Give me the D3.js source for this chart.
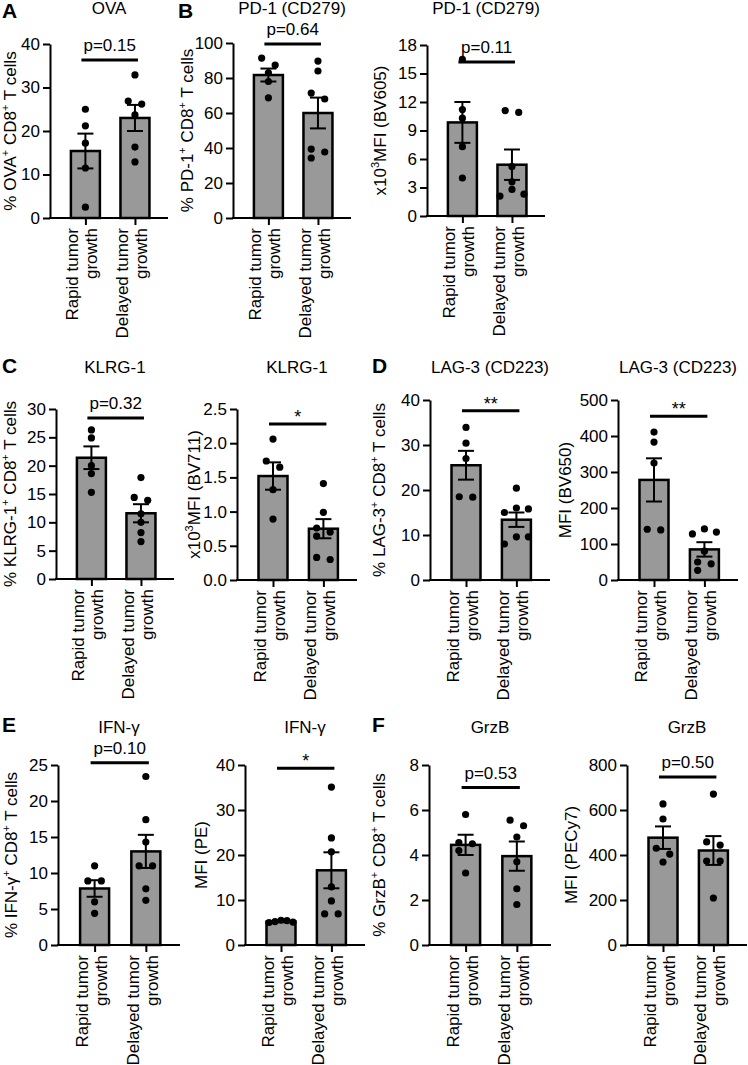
<!DOCTYPE html>
<html><head><meta charset="utf-8">
<script src="https://cdn.jsdelivr.net/npm/d3@7"></script>
<style>
body{margin:0;background:#fff}
svg text{font-family:Arial,"Liberation Sans",Helvetica,sans-serif;fill:#000}
</style>
</head><body>
<svg id="c" width="748" height="1065"></svg>
<script>
// ---------------- DATA ----------------
const categories = ["Rapid tumor growth", "Delayed tumor growth"];
const categoryLines = [["Rapid tumor", "growth"], ["Delayed tumor", "growth"]];
const panelTitles = ["OVA","PD-1 (CD279)","PD-1 (CD279)","KLRG-1","KLRG-1","LAG-3 (CD223)","LAG-3 (CD223)","IFN-γ","IFN-γ","GrzB","GrzB"];
const yLabels = ["% OVA^+ CD8^+ T cells","% PD-1^+ CD8^+ T cells","x10^3MFI (BV605)","% KLRG-1^+ CD8^+ T cells","x10^3MFI (BV711)","% LAG-3^+ CD8^+ T cells","MFI (BV650)","% IFN-γ^+ CD8^+ T cells","MFI (PE)","% GrzB^+ CD8^+ T cells","MFI (PECy7)"];
const yMax = [40, 100, 18, 30, 2.5, 40, 500, 25, 40, 8, 800];
const yStep = [10, 20, 3, 5, 0.5, 10, 100, 5, 10, 2, 200];
const tickDecimals = [0, 0, 0, 0, 1, 0, 0, 0, 0, 0, 0];
const means = [[15.4,23.0],[81.7,60.0],[9.85,5.4],[21.4,11.6],[1.52,0.75],[25.5,13.4],[278,85],[7.85,13.0],[5.2,16.6],[4.45,3.95],[477,420]];
const sems  = [[4.0,3.0],[3.7,8.8],[2.15,1.6],[2.0,1.6],[0.2,0.14],[3.2,1.6],[60,20],[1.15,2.3],[0.12,4.0],[0.45,0.65],[50,64]];
const rapidPoints = [
  [25, 21.2, 17.2, 11.5, 2.5],
  [91.4, 87.4, 83, 78, 68.7],
  [16.5, 11.2, 10.3, 7.3, 4.0],
  [26.3, 24.9, 20.0, 18.6, 15.3],
  [2.06, 1.74, 1.65, 1.32, 0.89],
  [33.9, 30.4, 27, 18.4, 18.5],
  [411, 383, 325, 139, 141],
  [11, 8.9, 8.9, 6.0, 4.4],
  [5.5, 5.4, 5.2, 5.1, 5.0],
  [5.8, 4.55, 4.5, 4.2, 3.2],
  [627, 560, 430, 404, 369]
];
const delayedPoints = [
  [32.9, 26.9, 26.2, 23.7, 16.3, 12.9],
  [89.7, 84, 71.4, 68, 39.4, 37.7, 34.3],
  [11.1, 10.9, 5.2, 3.6, 2.1, 2.3, 2.8],
  [17.9, 14.4, 13.9, 11.5, 10, 8.2, 6.6],
  [1.41, 0.99, 0.76, 0.70, 0.64, 0.33, 0.30],
  [20.4, 16, 15.8, 15, 9.6, 9.6, 8],
  [142, 128, 133, 80, 50, 45, 27],
  [23.4, 17.4, 14.3, 11, 11, 7.8, 6.2],
  [35.1, 23.8, 20.7, 12.9, 9.8, 6.9, 6.9],
  [5.3, 5.55, 4.8, 3.7, 2.5, 1.8],
  [671, 458, 444, 373, 373, 209]
];
const sigLabels = ["p=0.15","p=0.64","p=0.11","p=0.32","*","**","**","p=0.10","*","p=0.53","p=0.50"];
const sigLevels = [36.3, 99.4, 16.2, 28.4, 2.28, 37.6, 455, 25.3, 39.3, 7.0, 747];
const panelLetters = ["A","B","C","D","E","F"];

// ---------------- LAYOUT ----------------
const layout = [
  {x:50,  w:118, top:44,  bottom:218, lab:-34, ty:14},
  {x:233, w:118, top:43,  bottom:218, lab:-40, ty:14},
  {x:427, w:118, top:45,  bottom:216, lab:-41, ty:14},
  {x:56,  w:118, top:409, bottom:579, lab:-40, ty:373},
  {x:237, w:120, top:409, bottom:580, lab:-37, ty:373},
  {x:430, w:120, top:400, bottom:580, lab:-45, ty:373},
  {x:618, w:120, top:400, bottom:580, lab:-47, ty:373},
  {x:58,  w:122, top:765, bottom:945, lab:-41, ty:733},
  {x:245, w:120, top:765, bottom:945, lab:-38, ty:733},
  {x:429, w:122, top:765, bottom:945, lab:-44, ty:733},
  {x:627, w:120, top:765, bottom:945, lab:-50, ty:733}
];
const letterPos = [[2,18],[178,18],[2,373],[372,373],[2,732],[372,732]];

const svg = d3.select("#c");
const FS = 17, BAR_W = 29, DOT_R = 3.6, SPACING = 13.5, MAXSPAN = 24;

function addRich(sel, str, supSize){
  const parts = str.split(/\^(.)/);
  let shifted = false;
  parts.forEach((p,i)=>{
    if(!p) return;
    const t = sel.append("tspan").text(p);
    if(i%2===1){ t.attr("font-size", supSize).attr("dy", -7); shifted = true; }
    else if(shifted){ t.attr("dy", 7); shifted = false; }
  });
}

function swarm(vals, y){
  const pts = vals.map(v=>({v, py:y(v), dx:0})).sort((a,b)=>a.py-b.py);
  const placed = [];
  pts.forEach(p=>{
    const cands=[0];
    for(let k=1;k<8;k++){cands.push(k*SPACING,-k*SPACING);}
    for(const c of cands){
      if(!placed.some(q=>Math.abs(q.py-p.py)<7.5 && Math.abs(q.dx-c)<SPACING-0.5)){p.dx=c;break;}
    }
    placed.push(p);
  });
  const groups=[]; let cur=[];
  pts.forEach((p,i)=>{
    if(i>0 && p.py-pts[i-1].py>=7.5){groups.push(cur);cur=[];}
    cur.push(p);
  });
  if(cur.length) groups.push(cur);
  groups.forEach(g=>{
    const mn=d3.min(g,d=>d.dx), mx=d3.max(g,d=>d.dx);
    const c=(mn+mx)/2, span=mx-mn;
    const s = span>MAXSPAN ? MAXSPAN/span : 1;
    g.forEach(d=>d.dx=(d.dx-c)*s);
  });
  return pts;
}

layout.forEach((L,i)=>{
  const g = svg.append("g");
  const y = d3.scaleLinear().domain([0,yMax[i]]).range([L.bottom,L.top]);
  const x = d3.scalePoint().domain(categories).range([L.x+0.30*L.w, L.x+0.72*L.w]);
  const ticks = d3.range(0, yMax[i]+yStep[i]/2, yStep[i]);
  const fmt = d3.format("."+tickDecimals[i]+"f");

  g.selectAll("rect.bar").data(categories).join("rect")
    .attr("x", c=>x(c)-BAR_W/2).attr("width", BAR_W)
    .attr("y", (c,j)=>y(means[i][j])).attr("height",(c,j)=>y(0)-y(means[i][j]))
    .attr("fill","#999999").attr("stroke","#000").attr("stroke-width",2.5);

  const ya = g.append("g").attr("transform",`translate(${L.x},0)`)
    .call(d3.axisLeft(y).tickValues(ticks).tickFormat(fmt).tickSize(7).tickSizeOuter(0).tickPadding(3));
  ya.select(".domain").attr("stroke-width",2);
  ya.selectAll(".tick line").attr("stroke-width",2);
  ya.selectAll(".tick text").attr("font-size",FS).attr("font-family",'Arial,"Liberation Sans",sans-serif');

  const xa = g.append("g").attr("transform",`translate(0,${y(0)})`)
    .call(d3.axisBottom(x).tickSize(7).tickSizeOuter(0).tickFormat(""));
  xa.select(".domain").remove();
  xa.selectAll(".tick line").attr("stroke-width",2);
  g.append("line").attr("x1",L.x-1).attr("x2",L.x+L.w).attr("y1",y(0)).attr("y2",y(0))
    .attr("stroke","#000").attr("stroke-width",2);

  [rapidPoints[i], delayedPoints[i]].forEach((vals,j)=>{
    const cx = x(categories[j]);
    g.selectAll(null).data(swarm(vals,y)).join("circle")
      .attr("cx",d=>cx+d.dx).attr("cy",d=>d.py).attr("r",DOT_R).attr("fill","#000");
  });

  categories.forEach((c,j)=>{
    const m=means[i][j], s=sems[i][j], cx=x(c);
    const eg=g.append("g").attr("stroke","#000").attr("stroke-width",2);
    eg.append("line").attr("x1",cx).attr("x2",cx).attr("y1",y(m-s)).attr("y2",y(m+s));
    eg.append("line").attr("x1",cx-8).attr("x2",cx+8).attr("y1",y(m+s)).attr("y2",y(m+s));
    eg.append("line").attr("x1",cx-8).attr("x2",cx+8).attr("y1",y(m-s)).attr("y2",y(m-s));
  });

  const x1=x(categories[0])-4, x2=x(categories[1])+3, sy=y(sigLevels[i]);
  g.append("line").attr("x1",x1).attr("x2",x2).attr("y1",sy).attr("y2",sy)
    .attr("stroke","#000").attr("stroke-width",3);
  const isStar = sigLabels[i].startsWith("*");
  g.append("text").attr("x",(x1+x2)/2).attr("y", isStar? sy-1 : sy-9)
    .attr("text-anchor","middle").attr("font-size", isStar?18:FS).text(sigLabels[i]);

  g.append("text").attr("x",L.x+L.w/2).attr("y",L.ty).attr("text-anchor","middle")
    .attr("font-size",FS).text(panelTitles[i]);

  const yl = g.append("text").attr("text-anchor","middle").attr("font-size",FS)
    .attr("transform",`translate(${L.x+L.lab},${(L.top+L.bottom)/2}) rotate(-90)`);
  addRich(yl, yLabels[i], 11);

  categories.forEach((c,j)=>{
    const t=g.append("text").attr("text-anchor","end").attr("font-size",FS)
      .attr("transform",`translate(${x(c)},${y(0)+10}) rotate(-90)`);
    t.append("tspan").attr("x",0).attr("y",-7).text(categoryLines[j][0]);
    t.append("tspan").attr("x",0).attr("y",12).text(categoryLines[j][1]);
  });
});

panelLetters.forEach((l,k)=>{
  svg.append("text").attr("x",letterPos[k][0]).attr("y",letterPos[k][1])
    .attr("font-size",21).attr("font-weight","bold").text(l);
});
</script>
</body></html>
